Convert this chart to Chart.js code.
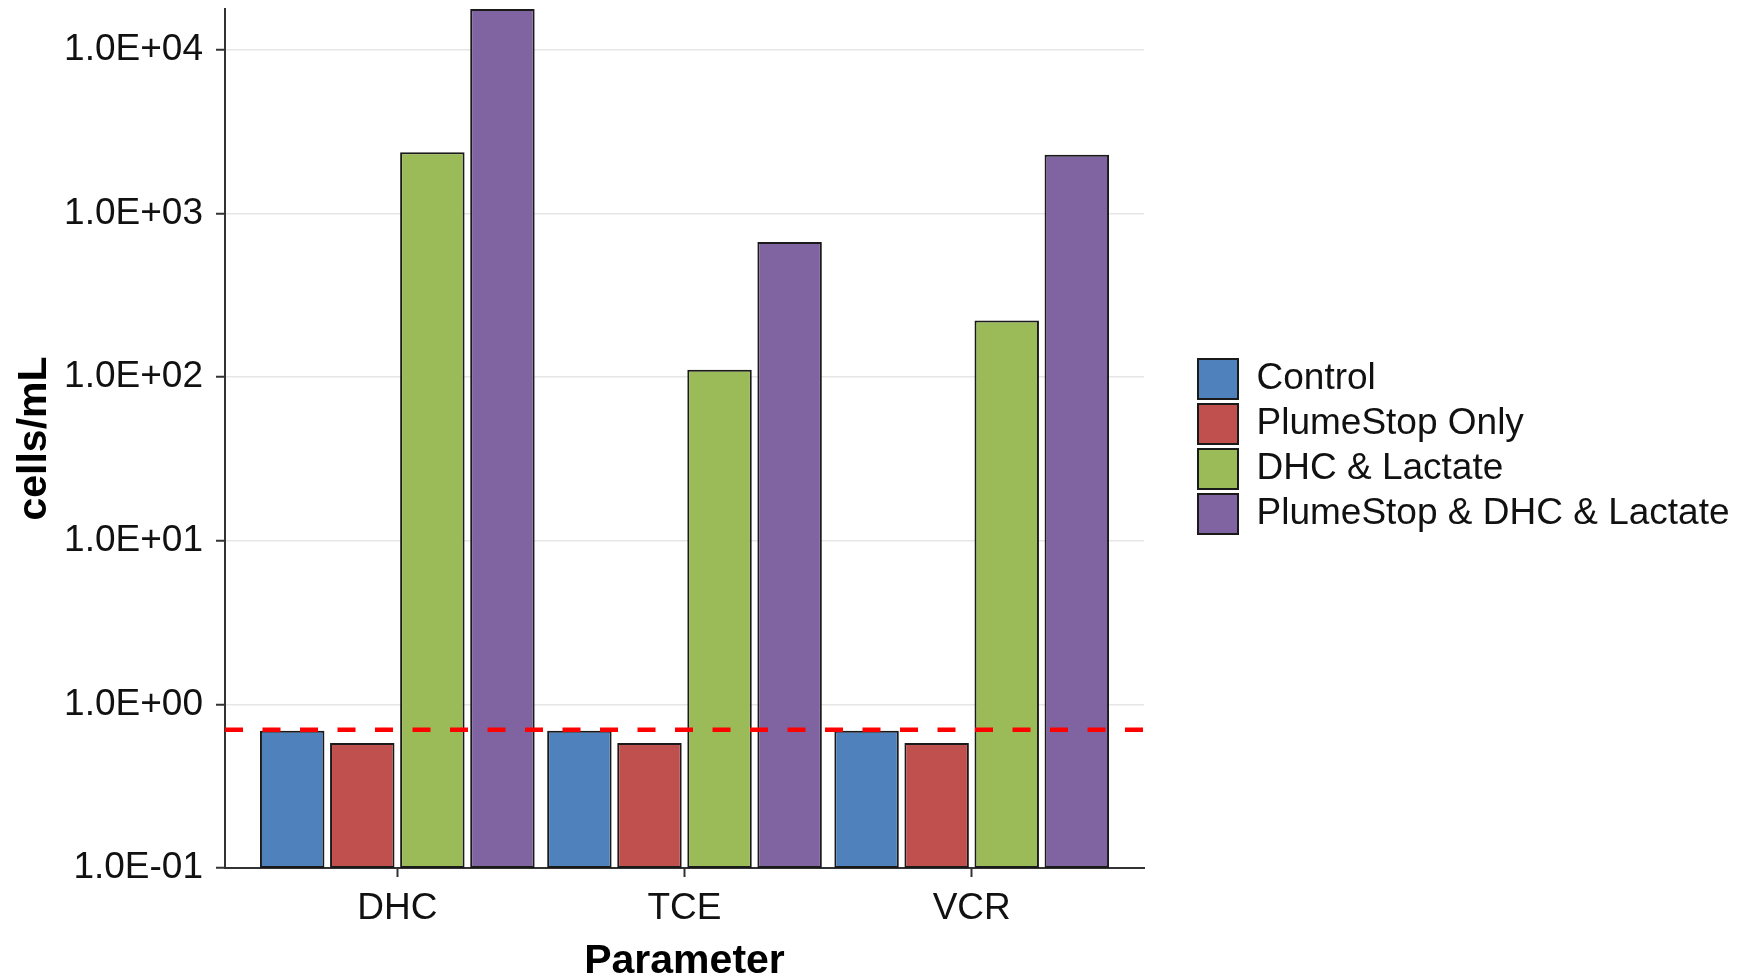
<!DOCTYPE html>
<html>
<head>
<meta charset="utf-8">
<title>cells/mL por parâmetro</title>
<script src="https://cdn.jsdelivr.net/npm/chart.js@4.4.1/dist/chart.umd.min.js"></script>
<style>
  html, body { margin: 0; padding: 0; background: #ffffff; }
  canvas { display: block; }
</style>
</head>
<body>
<canvas id="cellsChart" width="1745" height="978"></canvas>
<script>
// Categories and treatments
const parameters = ["DHC", "TCE", "VCR"];
const treatments = ["Control", "PlumeStop Only", "DHC & Lactate", "PlumeStop & DHC & Lactate"];
const treatmentColors = ["#4f81bd", "#c0504d", "#9bbb59", "#8064a2"];

// cells/mL for DHC, TCE, VCR
const control = [0.69, 0.69, 0.69];
const plumeStopOnly = [0.58, 0.58, 0.58];
const dhcLactate = [2370, 111, 222];
const plumeStopDhcLactate = [17800, 670, 2290];

// dashed reference line
const detectionLimit = 0.7;

// y axis
const yTicks = [0.1, 1, 10, 100, 1000, 10000];
const yMin = 0.1;
const yMax = 17800;

// x axis runs a bit past the first and last category
const xMin = -0.6;
const xMax = parameters.length - 1 + 0.6;

const fontFamily = "'Liberation Sans', Arial, sans-serif";
const ink = "#111111";
const axisInk = "#333333";

// 1.0E+04 style labels
function sciLabel(v) {
  const parts = Number(v).toExponential(1).split("e");
  const exp = Number(parts[1]);
  return parts[0] + "E" + (exp < 0 ? "-" : "+") + String(Math.abs(exp)).padStart(2, "0");
}

const series = [control, plumeStopOnly, dhcLactate, plumeStopDhcLactate];

const barSets = series.map((values, s) => ({
  type: "bar",
  label: treatments[s],
  data: values.map((v, i) => ({ x: i, y: v })),
  backgroundColor: treatmentColors[s],
  borderColor: "#1a1a1a",
  borderWidth: 2,
  borderSkipped: false,
  categoryPercentage: 0.976,
  barPercentage: 0.92,
  order: 1,
}));

const limitLine = {
  type: "line",
  label: "limit",
  data: [
    { x: xMin, y: detectionLimit },
    { x: xMax, y: detectionLimit },
  ],
  borderColor: "#ff0000",
  borderWidth: 4.5,
  borderDash: [18, 19.5],
  pointRadius: 0,
  fill: false,
  order: 0,
};

// pushes the legend block down a little
const legendNudge = {
  id: "legendNudge",
  afterLayout(chart) {
    chart.legend.top += 8;
    chart.legend.bottom += 8;
  },
};

Chart.defaults.font.family = fontFamily;
Chart.defaults.color = ink;

new Chart(document.getElementById("cellsChart").getContext("2d"), {
  type: "bar",
  data: { datasets: [...barSets, limitLine] },
  plugins: [legendNudge],
  options: {
    responsive: false,
    animation: false,
    devicePixelRatio: 1,
    layout: { padding: { top: 9, left: 0, right: 5.5, bottom: 0 } },
    scales: {
      x: {
        type: "linear",
        min: xMin,
        max: xMax,
        bounds: "data",
        offset: false,
        afterBuildTicks: (scale) => {
          scale.ticks = parameters.map((_, i) => ({ value: i }));
        },
        ticks: {
          callback: (v) => parameters[v],
          font: { size: 37 },
          color: ink,
          padding: 10,
          maxRotation: 0,
          autoSkip: false,
        },
        grid: {
          display: true,
          offset: false,
          drawOnChartArea: false,
          drawTicks: true,
          tickLength: 9,
          tickColor: axisInk,
          tickWidth: 2,
        },
        border: { display: true, color: axisInk, width: 2 },
        title: {
          display: true,
          text: "Parameter",
          color: "#000000",
          font: { size: 41, weight: "bold", lineHeight: 0.8 },
          padding: 0,
        },
        afterFit: (scale) => {
          scale.height = 110;
          scale.paddingLeft = 0;
          scale.paddingRight = 0;
        },
      },
      y: {
        type: "logarithmic",
        min: yMin,
        max: yMax,
        bounds: "data",
        afterBuildTicks: (scale) => {
          scale.ticks = yTicks.map((v) => ({ value: v }));
        },
        ticks: {
          callback: (v) => sciLabel(v),
          font: { size: 37 },
          color: ink,
          padding: 13,
          autoSkip: false,
        },
        grid: {
          color: "#e6e6e6",
          lineWidth: 1.5,
          drawTicks: true,
          tickLength: 9,
          tickColor: axisInk,
          tickWidth: 2,
        },
        border: { display: true, color: axisInk, width: 2 },
        title: {
          display: true,
          text: "cells/mL",
          color: "#000000",
          font: { size: 41, weight: "bold", lineHeight: 1.2 },
          padding: { top: 10, bottom: 0 },
        },
        afterFit: (scale) => {
          scale.width = 225;
          scale.paddingTop = 0;
          scale.paddingBottom = 0;
        },
      },
      // empty space between the plot and the legend
      gap: {
        type: "linear",
        position: "right",
        display: true,
        grid: { display: false },
        ticks: { display: false },
        border: { display: false },
        afterFit: (scale) => {
          scale.width = 49;
          scale.paddingTop = 0;
          scale.paddingBottom = 0;
        },
      },
    },
    plugins: {
      legend: {
        position: "right",
        align: "center",
        fullSize: false,
        maxWidth: 600,
        labels: {
          boxWidth: 40,
          boxHeight: 40,
          padding: 5,
          color: ink,
          font: { size: 37 },
          filter: (item) => item.datasetIndex < treatments.length,
        },
      },
      tooltip: { enabled: false },
    },
  },
});
</script>
</body>
</html>
